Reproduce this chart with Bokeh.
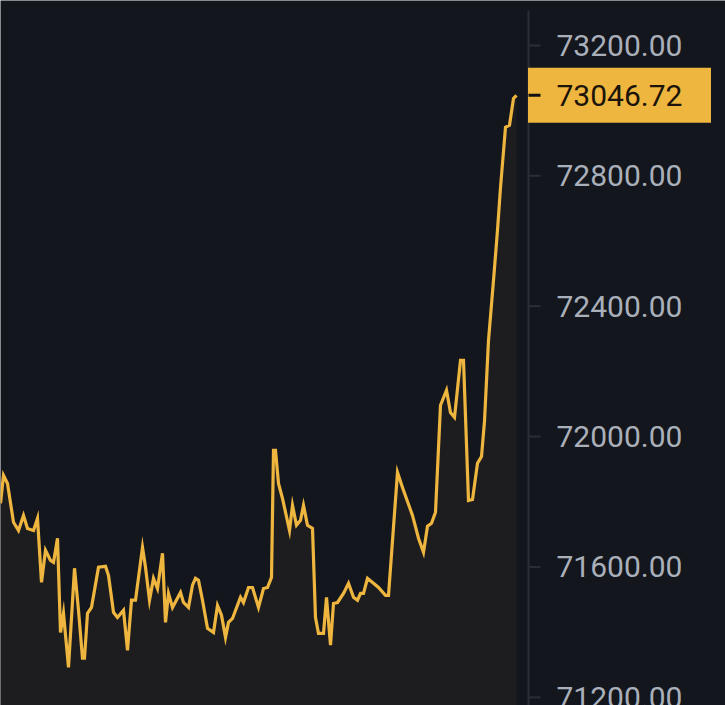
from bokeh.plotting import figure
from bokeh.models import Range1d, ColumnDataSource
from bokeh.core.properties import value
from bokeh.embed import file_html
from bokeh.resources import INLINE

# time step (minutes) and BTC price
minute = [0, 3, 7, 13, 18, 23, 27, 33, 37, 41, 45, 50, 53, 57, 60, 63, 68, 74, 78, 82,
          84, 87, 91, 98, 105, 108, 113, 117, 123, 127, 131, 135, 142, 145, 149, 153, 157, 162, 165, 168,
          172, 180, 183, 188, 192, 195, 198, 202, 207, 213, 217, 221, 225, 228, 232, 240, 243, 248, 252, 258,
          263, 267, 271, 273, 275, 278, 282, 289, 292, 296, 300, 303, 307, 312, 315, 318, 323, 326, 330, 333,
          337, 343, 348, 353, 357, 360, 363, 367, 373, 378, 385, 388, 397, 402, 407, 412, 418, 423, 427, 431,
          435, 440, 446, 450, 454, 460, 463, 468, 472, 477, 481, 484, 488, 493, 497, 500, 505, 509, 513, 516]
price = [71795, 71881, 71856, 71737, 71712, 71758, 71718, 71712, 71749, 71553, 71651, 71620, 71614, 71688, 71399, 71458, 71292, 71596, 71467, 71320,
         71320, 71458, 71476, 71599, 71602, 71574, 71461, 71445, 71467, 71344, 71498, 71498, 71660, 71599, 71498, 71565, 71534, 71642, 71430, 71519,
         71476, 71522, 71491, 71476, 71544, 71565, 71559, 71498, 71412, 71399, 71482, 71452, 71384, 71430, 71442, 71507, 71491, 71537, 71537, 71476,
         71534, 71537, 71568, 71958, 71958, 71856, 71810, 71712, 71789, 71728, 71743, 71789, 71728, 71718, 71445, 71396, 71396, 71507, 71360, 71488,
         71491, 71519, 71550, 71507, 71498, 71519, 71519, 71565, 71550, 71537, 71513, 71513, 71890, 71844, 71801, 71758, 71688, 71645, 71725, 71734,
         71768, 72096, 72142, 72074, 72059, 72234, 72234, 71804, 71807, 71918, 71939, 72047, 72295, 72479, 72633, 72764, 72949, 72955, 73037, 73046.72]

tick_values = [71200, 71600, 72000, 72400, 72800, 73200]
tick_labels = ["71200.00", "71600.00", "72000.00", "72400.00", "72800.00", "73200.00"]
last_price_text = "73046.72"

BG = "#13161d"
YELLOW = "#eeb63e"
AXIS_COLOR = "#2a2e38"
AXIS_X = 528          # price-scale position along the time axis
Y_TOP, Y_BOTTOM = 73307, 71175

src = ColumnDataSource(dict(t=minute, p=price, base=[Y_BOTTOM - 50] * len(price)))

p = figure(width=725, height=705, output_backend="svg", toolbar_location=None,
           x_axis_location=None, y_axis_location=None,
           x_range=Range1d(0, 725), y_range=Range1d(Y_BOTTOM, Y_TOP + 10 * (Y_TOP - Y_BOTTOM) / 695),
           min_border_left=0, min_border_top=0, min_border_bottom=0, min_border_right=0)
p.background_fill_color = BG
p.border_fill_color = BG
p.outline_line_color = None
p.xgrid.visible = False
p.ygrid.visible = False

# price area + line
p.varea(x="t", y1="base", y2="p", source=src, fill_color="#1d1d20", fill_alpha=1.0)
p.line(x="t", y="p", source=src, line_color=YELLOW, line_width=3.2, line_join="miter")

# price scale (right)
p.segment(x0=[AXIS_X], y0=[Y_BOTTOM - 50], x1=[AXIS_X], y1=[Y_TOP],
          line_color=AXIS_COLOR, line_width=2)
tsrc = ColumnDataSource(dict(y=tick_values, label=tick_labels, x=[AXIS_X] * len(tick_values)))
p.ray(x="x", y="y", length=12, length_units="screen", angle=0, source=tsrc,
      line_color=AXIS_COLOR, line_width=2)
p.text(x="x", y="y", text="label", source=tsrc, x_offset=28,
       text_font=value("Roboto"), text_font_size="30px", text_color="#aab0ba",
       text_baseline="middle", text_align="left")

# last-price marker
last_t = [AXIS_X]
last_p = [price[-1]]
p.rect(x=[AXIS_X + 91], y=last_p, width=183, height=55, width_units="screen", height_units="screen",
       fill_color=YELLOW, line_color=None)
p.ray(x=last_t, y=last_p, length=12, length_units="screen", angle=0,
      line_color="#111111", line_width=3)
p.text(x=last_t, y=last_p, text=[last_price_text], x_offset=28,
       text_font=value("Roboto"), text_font_size="30px", text_color="#1c140a",
       text_baseline="middle", text_align="left")

html = file_html(p, INLINE)
html = html.replace("<body>", '<body style="background-color:%s;">' % BG, 1)
open("out.html", "w").write(html)
